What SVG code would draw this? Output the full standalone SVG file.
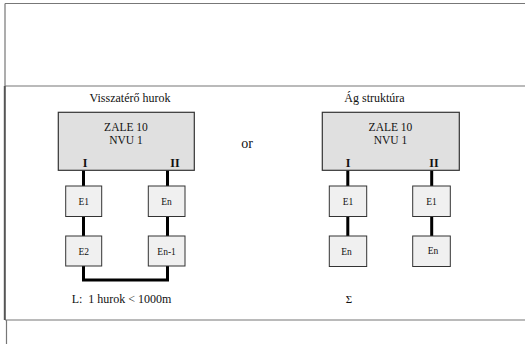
<svg xmlns="http://www.w3.org/2000/svg" width="525" height="344" viewBox="0 0 525 344">
<style>
text{font-family:"Liberation Serif","Times New Roman",serif;fill:#111}
.frame{stroke:#777;stroke-width:1.2;fill:none}
.big{fill:#e0e0e0;stroke:#333;stroke-width:1.2}
.small{fill:#f0f0f0;stroke:#333;stroke-width:1}
.conn{stroke:#000;stroke-width:3;fill:none}
.t12{font-size:12px;text-anchor:middle}
.name{font-size:11.5px;text-anchor:middle}
.port{font-size:12px;font-weight:bold;text-anchor:middle}
.e{font-size:9.5px;text-anchor:middle}
</style>
<rect width="525" height="344" fill="#fff"/>
<g id="frame">
<path class="frame" d="M5,3.5H525M5,3.5V86M5,86H525M5,320H525M6.5,320V344"/>
<path d="M4.8,86V320" stroke="#555" stroke-width="2" fill="none"/>
</g>
<g id="connectors">
<path class="conn" d="M83.5,170V186M83.5,216.5V236M83.5,266V280H167.5V266M167.5,170V186M167.5,216.5V236"/>
<path class="conn" d="M347.8,170V186M347.8,216.5V236M431.7,170V186M431.7,216.5V236"/>
</g>
<text class="t12" x="130" y="101.5">Visszatérő hurok</text>
<text class="t12" x="374.5" y="101.5">Ág struktúra</text>
<g id="nvu-left">
<rect class="big" x="58.3" y="112.3" width="136" height="58"/>
<text class="name" x="126" y="131">ZALE 10</text>
<text class="name" x="126" y="144.2">NVU 1</text>
<text class="port" x="85" y="166.5">I</text>
<text class="port" x="175" y="166.5">II</text>
</g>
<text x="247" y="148" font-size="14" text-anchor="middle">or</text>
<g id="nvu-right">
<rect class="big" x="322.3" y="112.3" width="137" height="58"/>
<text class="name" x="390.5" y="131">ZALE 10</text>
<text class="name" x="390.5" y="144.2">NVU 1</text>
<text class="port" x="348" y="166.5">I</text>
<text class="port" x="434" y="166.5">II</text>
</g>
<g id="l-e1"><rect class="small" x="65.7" y="186" width="36" height="30.5"/><text class="e" x="83.7" y="204.5">E1</text></g>
<g id="l-e2"><rect class="small" x="65.7" y="236" width="36" height="30"/><text class="e" x="83.7" y="254.5">E2</text></g>
<g id="l-en"><rect class="small" x="148.3" y="186" width="36.7" height="30.5"/><text class="e" x="166.6" y="204.5">En</text></g>
<g id="l-en1"><rect class="small" x="148.3" y="236" width="36.7" height="30"/><text class="e" x="166.6" y="254.5">En-1</text></g>
<g id="r-e1a"><rect class="small" x="329.3" y="186" width="37.4" height="30.5"/><text class="e" x="348" y="204.5">E1</text></g>
<g id="r-ena"><rect class="small" x="329.3" y="236" width="37.4" height="30.5"/><text class="e" x="346.5" y="254.5">En</text></g>
<g id="r-e1b"><rect class="small" x="412.7" y="186" width="37.6" height="30.5"/><text class="e" x="431.5" y="204.5">E1</text></g>
<g id="r-enb"><rect class="small" x="412.7" y="236" width="37.6" height="30.5"/><text class="e" x="433" y="254">En</text></g>
<text x="71.7" y="303" font-size="12">L:&#160; 1 hurok &lt; 1000m</text>
<text x="349" y="303" font-size="11" text-anchor="middle">Σ</text>
</svg>
